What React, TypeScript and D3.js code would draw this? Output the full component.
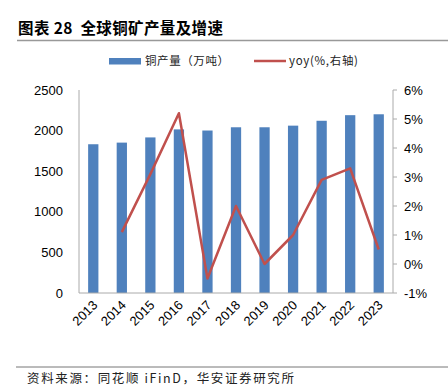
import React from "react";
import * as d3 from "d3";

const years = ["2013","2014","2015","2016","2017","2018","2019","2020","2021","2022","2023"];
const output = [1832, 1852, 1916, 2015, 2001, 2041, 2041, 2061, 2121, 2190, 2201];
const yoy = [null, 1.1, 3.1, 5.2, -0.5, 2.0, 0.0, 1.0, 2.9, 3.3, 0.5];
const leftTicks = [0, 500, 1000, 1500, 2000, 2500];
const rightTicks = [-1, 0, 1, 2, 3, 4, 5, 6];

const W = 448, H = 390;
const L = 79, R = 393, T = 90, B = 293;

export default function App() {
  const x = d3.scaleBand().domain(years).range([L, R]).paddingInner(0.64).paddingOuter(0.32);
  const yL = d3.scaleLinear().domain([0, 2500]).range([B, T]);
  const yR = d3.scaleLinear().domain([-1, 6]).range([B, T]);
  const cx = (d: string) => (x(d) as number) + x.bandwidth() / 2;
  const linePts = years.map((y, i) => [y, yoy[i]] as [string, number | null]).filter(d => d[1] !== null);
  const line = d3.line<[string, number | null]>().x(d => cx(d[0])).y(d => yR(d[1] as number));
  const tickFont = "Liberation Sans, Arial, sans-serif";
  const cjk = "'Noto Sans CJK SC', sans-serif";
  return (
    <svg width={W} height={H} style={{ position: "absolute", left: 0, top: 0, background: "#fff" }}>
      <text x={18} y={34} fontFamily={cjk} fontWeight="bold" fontSize={15.5} fill="#000" textLength={205} lengthAdjust="spacing" style={{ whiteSpace: "pre" }}>图表 28  全球铜矿产量及增速</text>
      <line x1={17} x2={448} y1={40.5} y2={40.5} stroke="#999" strokeWidth={1.5} />
      <rect x={109} y={58} width={32} height={6.5} fill="#4F81BD" />
      <text x={145} y={65} fontFamily={cjk} fontSize={11.5} fill="#222" textLength={84} lengthAdjust="spacing">铜产量（万吨）</text>
      <line x1={254} x2={286} y1={61} y2={61} stroke="#C0504D" strokeWidth={2.5} />
      <text x={289} y={65} fontFamily={cjk} fontSize={11.5} fill="#222" textLength={69} lengthAdjust="spacing">yoy(%,右轴)</text>

      {years.map((y, i) => (
        <rect key={y} x={x(y)} y={yL(output[i])} width={x.bandwidth()} height={B - yL(output[i])} fill="#4F81BD" />
      ))}
      <path d={line(linePts) || ""} fill="none" stroke="#C0504D" strokeWidth={2.5} strokeLinejoin="round" />

      <line x1={L} x2={L} y1={T} y2={B} stroke="#aaa" />
      <line x1={L} x2={R} y1={B} y2={B} stroke="#aaa" />
      <line x1={R} x2={R} y1={T} y2={B} stroke="#aaa" />
      {leftTicks.map(t => (
        <text key={t} x={63} y={yL(t) + 4.5} textAnchor="end" fontFamily={tickFont} fontSize={13} fill="#000">{t}</text>
      ))}
      {rightTicks.map(t => (
        <g key={t}>
          <line x1={R} x2={R + 4} y1={yR(t)} y2={yR(t)} stroke="#aaa" />
          <text x={404} y={yR(t) + 4.5} fontFamily={tickFont} fontSize={13} fill="#000">{t}%</text>
        </g>
      ))}
      {years.map(y => (
        <text key={y} transform={`translate(${cx(y) + 5},${B + 13}) rotate(-45)`} textAnchor="end" fontFamily={tickFont} fontSize={13} fill="#000">{y}</text>
      ))}

      <line x1={16} x2={448} y1={367} y2={367} stroke="#777" strokeWidth={1} />
      <text x={27} y={383} fontFamily={cjk} fontSize={12.5} fill="#222" textLength={267} lengthAdjust="spacing" style={{ whiteSpace: "pre" }}>资料来源：同花顺 iFinD，华安证券研究所</text>
    </svg>
  );
}
